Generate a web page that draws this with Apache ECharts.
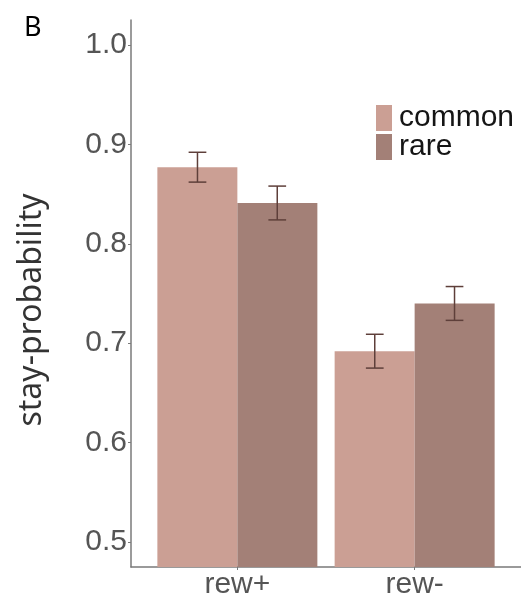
<!DOCTYPE html>
<html>
<head>
<meta charset="utf-8">
<script src="https://cdn.jsdelivr.net/npm/echarts@6/dist/echarts.min.js"></script>
<style>
  html, body { margin: 0; padding: 0; background: #fff; }
  #chart { width: 521px; height: 600px; }
</style>
</head>
<body>
<div id="chart"></div>
<script>
// Stay probability by previous outcome and transition type
const categories = ['rew+', 'rew-'];
const seriesNames = ['common', 'rare'];
const commonMean = [0.877, 0.692];
const commonSE = [0.015, 0.017];
const rareMean = [0.841, 0.740];
const rareSE = [0.017, 0.017];
const yTicks = [0.5, 0.6, 0.7, 0.8, 0.9, 1.0];

const colors = { common: '#cb9f94', rare: '#a38077' };
const errColor = '#5e3f3a';

// positions along the x scale: categories sit at 1, 2; dodge of 0.9 split in two
const catPos = categories.map((c, i) => i + 1);
const dodge = 0.225;
const capHalf = 0.05;

function barData(means) {
  return means.map((v, i) => [catPos[i], v]);
}
function errData(means, se, shift) {
  return means.map((v, i) => [catPos[i] + shift, v - se[i], v + se[i]]);
}

function errorBarRender(params, api) {
  const x = api.value(0);
  const lo = api.coord([x, api.value(1)]);
  const hi = api.coord([x, api.value(2)]);
  const capL = api.coord([x - capHalf, 0])[0];
  const capR = api.coord([x + capHalf, 0])[0];
  const style = { stroke: errColor, lineWidth: 1.5, fill: null };
  return {
    type: 'group',
    children: [
      { type: 'line', shape: { x1: lo[0], y1: lo[1], x2: hi[0], y2: hi[1] }, style },
      { type: 'line', shape: { x1: capL, y1: hi[1], x2: capR, y2: hi[1] }, style },
      { type: 'line', shape: { x1: capL, y1: lo[1], x2: capR, y2: lo[1] }, style }
    ]
  };
}

const chart = echarts.init(document.getElementById('chart'), null, { renderer: 'canvas' });

const axisFont = 'Liberation Sans, Arial, sans-serif';

chart.setOption({
  animation: false,
  backgroundColor: '#fff',
  grid: { left: 131, right: 0, top: 20, bottom: 33, containLabel: false },
  legend: {
    orient: 'vertical',
    left: 376,
    top: 103,
    padding: 0,
    itemWidth: 16,
    itemHeight: 26,
    itemGap: -1,
    icon: 'rect',
    data: seriesNames,
    textStyle: { fontFamily: axisFont, fontSize: 30, color: '#151515', padding: [0, 0, 0, 2] }
  },
  xAxis: {
    type: 'value',
    min: 0.4,
    max: 2.6,
    splitLine: { show: false },
    axisLine: { show: true, lineStyle: { color: '#7a7a7a', width: 1.5 } },
    axisTick: { show: true, customValues: catPos, length: 3, lineStyle: { color: '#7a7a7a' } },
    axisLabel: {
      customValues: catPos,
      formatter: v => categories[Math.round(v) - 1],
      fontFamily: axisFont,
      fontSize: 30,
      color: '#555',
      margin: 3
    }
  },
  yAxis: {
    type: 'value',
    min: 0.475,
    max: 1.025,
    splitLine: { show: false },
    axisLine: { show: true, lineStyle: { color: '#7a7a7a', width: 1.5 } },
    axisTick: { show: true, customValues: yTicks, length: 3, lineStyle: { color: '#7a7a7a' } },
    axisLabel: {
      customValues: yTicks,
      formatter: v => v.toFixed(1),
      fontFamily: axisFont,
      fontSize: 30,
      color: '#555',
      margin: 4
    }
  },
  graphic: [
    {
      type: 'text',
      x: 24,
      y: 28,
      style: { text: 'B', font: '27px "Noto Sans"', fill: '#000', textVerticalAlign: 'middle', textAlign: 'left' }
    },
    {
      type: 'text',
      x: 32,
      y: 310,
      rotation: Math.PI / 2,
      style: { text: 'stay-probability', font: '32px "Noto Sans"', fill: '#333', textAlign: 'center', textVerticalAlign: 'middle' }
    }
  ],
  series: [
    {
      name: 'common',
      type: 'bar',
      data: barData(commonMean),
      barWidth: 80,
      barGap: '0%',
      itemStyle: { color: colors.common },
      clip: true
    },
    {
      name: 'rare',
      type: 'bar',
      data: barData(rareMean),
      barWidth: 80,
      barGap: '0%',
      itemStyle: { color: colors.rare },
      clip: true
    },
    {
      type: 'custom',
      renderItem: errorBarRender,
      data: errData(commonMean, commonSE, -dodge),
      z: 5
    },
    {
      type: 'custom',
      renderItem: errorBarRender,
      data: errData(rareMean, rareSE, dodge),
      z: 5
    }
  ]
});
</script>
</body>
</html>
